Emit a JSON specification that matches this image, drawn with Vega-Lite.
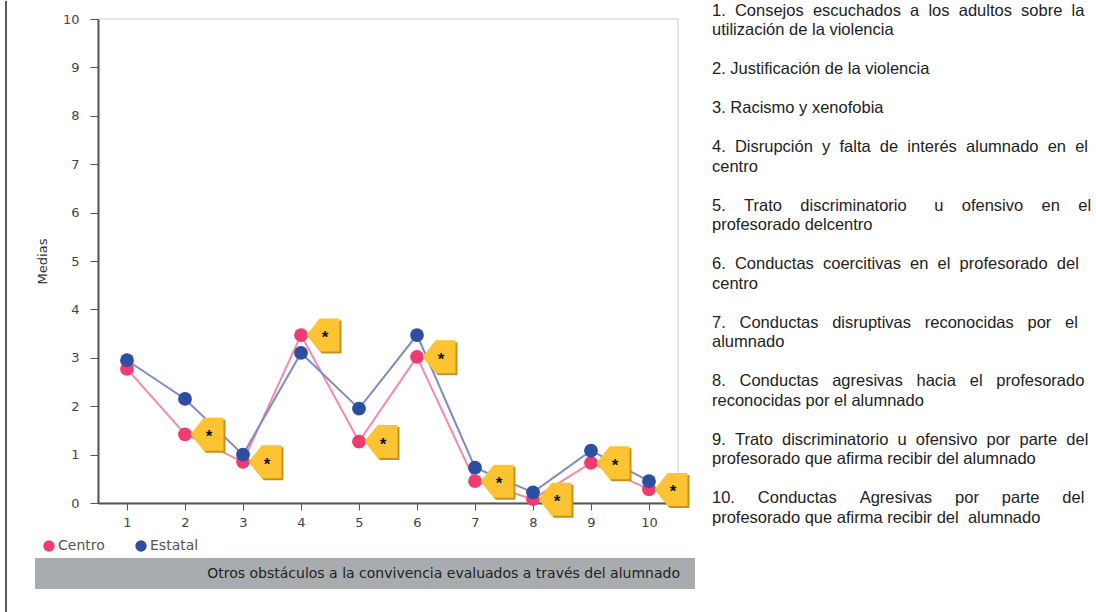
{"$schema":"https://vega.github.io/schema/vega-lite/v6.json","background":"white","padding":{"left":5,"top":0,"right":0,"bottom":0},"autosize":{"type":"pad"},"config":{"view":{"stroke":null}},"spacing":0,"hconcat":[{"width":1,"height":612,"data":{"values":[{"a":0}]},"mark":{"type":"rule","color":"#222","strokeWidth":1.5},"encoding":{"x":{"field":"a","type":"quantitative","scale":{"domain":[0,1]},"axis":null}}},{"width":28,"height":10,"data":{"values":[]},"mark":{"type":"rule"},"encoding":{}},{"spacing":0,"vconcat":[{"width":10,"height":11,"data":{"values":[]},"mark":{"type":"rule"},"encoding":{}},{"spacing":28,"vconcat":[{"width":580,"height":484,"view":{"stroke":"#e6e6e6","strokeWidth":2},"data":{"values":[{"item":1,"serie":"Centro","media":2.77},{"item":2,"serie":"Centro","media":1.42},{"item":3,"serie":"Centro","media":0.85},{"item":4,"serie":"Centro","media":3.47},{"item":5,"serie":"Centro","media":1.27},{"item":6,"serie":"Centro","media":3.02},{"item":7,"serie":"Centro","media":0.45},{"item":8,"serie":"Centro","media":0.08},{"item":9,"serie":"Centro","media":0.83},{"item":10,"serie":"Centro","media":0.28},{"item":1,"serie":"Estatal","media":2.95},{"item":2,"serie":"Estatal","media":2.15},{"item":3,"serie":"Estatal","media":1.0},{"item":4,"serie":"Estatal","media":3.1},{"item":5,"serie":"Estatal","media":1.95},{"item":6,"serie":"Estatal","media":3.47},{"item":7,"serie":"Estatal","media":0.73},{"item":8,"serie":"Estatal","media":0.22},{"item":9,"serie":"Estatal","media":1.08},{"item":10,"serie":"Estatal","media":0.45}]},"encoding":{"x":{"field":"item","type":"quantitative","scale":{"domain":[0.5,10.5],"nice":false,"zero":false},"axis":{"values":[1,2,3,4,5,6,7,8,9,10],"title":null,"grid":false,"format":"d","domainColor":"#555","domainWidth":2,"tickColor":"#555","tickSize":7,"labelPadding":6,"labelFont":"DejaVu Sans","labelFontSize":13,"labelColor":"#444"}},"y":{"field":"media","type":"quantitative","scale":{"domain":[0,10],"nice":false},"axis":{"values":[0,1,2,3,4,5,6,7,8,9,10],"title":"Medias","titleFont":"DejaVu Sans","titleFontSize":13,"titleFontWeight":"normal","titleColor":"#333","titlePadding":13,"grid":false,"domainColor":"#555","domainWidth":2,"tickColor":"#555","tickSize":8,"labelPadding":11,"labelFont":"DejaVu Sans","labelFontSize":13,"labelColor":"#444"}}},"layer":[{"transform":[{"filter":"datum.serie=='Centro'"}],"mark":{"type":"line","strokeWidth":2,"clip":false,"color":"#f48aa8"}},{"transform":[{"filter":"datum.serie=='Estatal'"}],"mark":{"type":"line","strokeWidth":2,"clip":false,"color":"#7f8bc4"}},{"mark":{"type":"circle","size":190,"opacity":1,"clip":false},"encoding":{"color":{"field":"serie","type":"nominal","scale":{"domain":["Centro","Estatal"],"range":["#ee3b72","#2e4ea0"]},"legend":{"orient":"none","legendX":36,"legendY":538,"direction":"horizontal","title":null,"columns":2,"columnPadding":29,"symbolType":"circle","symbolSize":130,"labelFont":"DejaVu Sans","labelFontSize":14,"labelColor":"#555","labelOffset":2}}}},{"transform":[{"filter":"datum.serie=='Centro' && datum.item!=1"}],"mark":{"type":"point","filled":true,"opacity":1,"size":1089,"clip":false,"xOffset":24,"yOffset":2,"color":"#c9901f","shape":"M -1 0 L -0.2 -1 L 1 -1 L 1 1 L -0.2 1 Z"}},{"transform":[{"filter":"datum.serie=='Centro' && datum.item!=1"}],"mark":{"type":"point","filled":true,"opacity":1,"size":1089,"clip":false,"xOffset":22,"color":"#fcc433","shape":"M -1 0 L -0.2 -1 L 1 -1 L 1 1 L -0.2 1 Z"}},{"transform":[{"filter":"datum.serie=='Centro' && datum.item!=1"}],"mark":{"type":"text","text":"*","font":"Liberation Sans","fontWeight":"bold","fontSize":17,"dy":3,"xOffset":24,"color":"#111"}}]},{"width":597,"height":31,"data":{"values":[{"rotulo":"Otros obstáculos a la convivencia evaluados a través del alumnado","a":0,"b":1}]},"encoding":{"x":{"field":"a","type":"quantitative","scale":{"domain":[0,1],"nice":false},"axis":null}},"layer":[{"mark":{"type":"rect","color":"#a8acae","xOffset":-63},"encoding":{"x2":{"field":"b"}}},{"mark":{"type":"text","align":"right","xOffset":-15,"font":"DejaVu Sans","fontSize":14,"color":"#222"},"encoding":{"x":{"field":"b","type":"quantitative"},"text":{"field":"rotulo"}}}]}]}]},{"width":17,"height":10,"data":{"values":[]},"mark":{"type":"rule"},"encoding":{}},{"width":385,"height":546,"data":{"values":[{"linea":0,"texto":"1. \u00a0Consejos \u00a0escuchados \u00a0a \u00a0los \u00a0adultos \u00a0sobre \u00a0la"},{"linea":1,"texto":"utilización de la violencia"},{"linea":3,"texto":"2. Justificación de la violencia"},{"linea":5,"texto":"3. Racismo y xenofobia"},{"linea":7,"texto":"4. \u00a0Disrupción \u00a0y \u00a0falta \u00a0de \u00a0interés \u00a0alumnado \u00a0en \u00a0el"},{"linea":8,"texto":"centro"},{"linea":10,"texto":"5. \u00a0\u00a0\u00a0Trato \u00a0\u00a0\u00a0discriminatorio \u00a0\u00a0\u00a0\u00a0\u00a0u \u00a0\u00a0\u00a0ofensivo \u00a0\u00a0\u00a0en \u00a0\u00a0\u00a0el"},{"linea":11,"texto":"profesorado delcentro"},{"linea":13,"texto":"6. \u00a0Conductas \u00a0coercitivas \u00a0en \u00a0el \u00a0profesorado \u00a0del"},{"linea":14,"texto":"centro"},{"linea":16,"texto":"7. \u00a0\u00a0Conductas \u00a0\u00a0disruptivas \u00a0\u00a0reconocidas \u00a0\u00a0por \u00a0\u00a0el"},{"linea":17,"texto":"alumnado"},{"linea":19,"texto":"8. \u00a0\u00a0Conductas \u00a0\u00a0agresivas \u00a0\u00a0hacia \u00a0\u00a0el \u00a0\u00a0profesorado"},{"linea":20,"texto":"reconocidas por el alumnado"},{"linea":22,"texto":"9. \u00a0Trato \u00a0discriminatorio \u00a0u \u00a0ofensivo \u00a0por \u00a0parte \u00a0del"},{"linea":23,"texto":"profesorado que afirma recibir del alumnado"},{"linea":25,"texto":"10. \u00a0\u00a0\u00a0\u00a0Conductas \u00a0\u00a0\u00a0\u00a0Agresivas \u00a0\u00a0\u00a0\u00a0por \u00a0\u00a0\u00a0\u00a0parte \u00a0\u00a0\u00a0\u00a0del"},{"linea":26,"texto":"profesorado que afirma recibir del \u00a0alumnado"}]},"mark":{"type":"text","align":"left","font":"Liberation Sans","fontSize":16.5,"color":"#222"},"encoding":{"x":{"datum":0,"scale":{"domain":[0,1]},"axis":null},"y":{"field":"linea","type":"quantitative","scale":{"domain":[-0.5,27.5],"reverse":true,"nice":false,"zero":false},"axis":null},"text":{"field":"texto"}}}]}
